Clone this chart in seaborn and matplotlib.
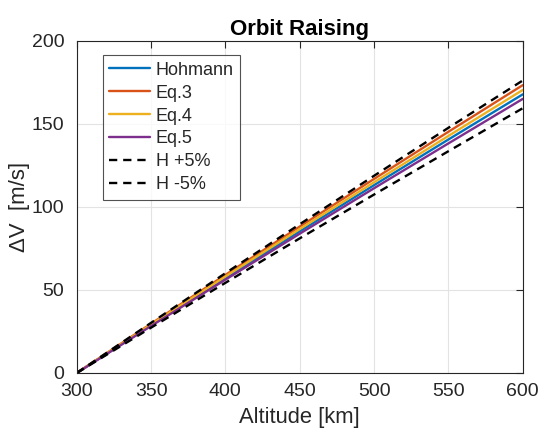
import matplotlib
matplotlib.use("Agg")
import matplotlib.pyplot as plt
import seaborn as sns
import pandas as pd

altitude = [300, 350, 400, 450, 500, 550, 600]
hohmann = [0, 28.76, 57.20, 85.33, 113.14, 140.65, 167.85]
eq3 = [0, 29.7, 59.1, 88.2, 116.9, 145.3, 173.4]
eq4 = [0, 29.2, 58.1, 86.7, 114.9, 142.8, 170.5]
eq5 = [0, 28.3, 56.2, 83.9, 111.3, 138.3, 165.1]
h_plus5 = [0, 30.2, 60.1, 89.6, 118.8, 147.7, 176.2]
h_minus5 = [0, 27.3, 54.3, 81.1, 107.5, 133.6, 159.5]

series_names = ["Hohmann", "Eq.3", "Eq.4", "Eq.5", "H +5%", "H -5%"]
series_vals = [hohmann, eq3, eq4, eq5, h_plus5, h_minus5]
colors = ["#0072BD", "#D95319", "#EDB120", "#7E2F8E", "black", "black"]
dash_styles = ["", "", "", "", (3.5, 2.5), (3.5, 2.5)]

rows = []
for name, vals in zip(series_names, series_vals):
    for a, v in zip(altitude, vals):
        rows.append({"Altitude": a, "dV": v, "series": name})
df = pd.DataFrame(rows)

sns.set_style("white")
plt.rcParams["font.family"] = ["Liberation Sans", "DejaVu Sans"]

fig = plt.figure(figsize=(5.39, 4.32), dpi=100)
ax = fig.add_axes([0.1423, 0.1366, 0.8275, 0.7685])

sns.lineplot(data=df, x="Altitude", y="dV", hue="series", style="series",
             hue_order=series_names, style_order=series_names,
             palette=dict(zip(series_names, colors)),
             dashes=dict(zip(series_names, dash_styles)),
             linewidth=1.7, ax=ax)

ax.set_xlim(300, 600)
ax.set_ylim(0, 200)
ax.set_xticks(altitude)
ax.set_yticks([0, 50, 100, 150, 200])
ax.grid(True, color="#e3e3e3", linewidth=0.8)
ax.set_axisbelow(True)
for s in ax.spines.values():
    s.set_color("#262626")
    s.set_linewidth(0.8)
ax.tick_params(direction="in", length=5, width=0.8, colors="#262626",
               top=True, right=True, labelsize=14)
ax.tick_params(axis="x", pad=7)
ax.tick_params(axis="y", pad=9)
ax.set_xlabel("Altitude [km]", fontsize=15.8, color="#262626", labelpad=5)
ax.set_ylabel("ΔV  [m/s]", fontsize=16, color="#262626", labelpad=1)
ax.set_title("Orbit Raising", fontsize=16, fontweight="bold", color="black", pad=4)

leg = ax.legend(loc="upper left", bbox_to_anchor=(0.058, 0.957), fontsize=13,
                handlelength=2.3, handletextpad=0.3, labelspacing=0.33,
                borderpad=0.35, frameon=True, fancybox=False, borderaxespad=0)
leg.get_frame().set_edgecolor("#262626")
leg.get_frame().set_linewidth(0.8)
for t in leg.get_texts():
    t.set_color("#262626")

fig.savefig("out.png", dpi=100)
